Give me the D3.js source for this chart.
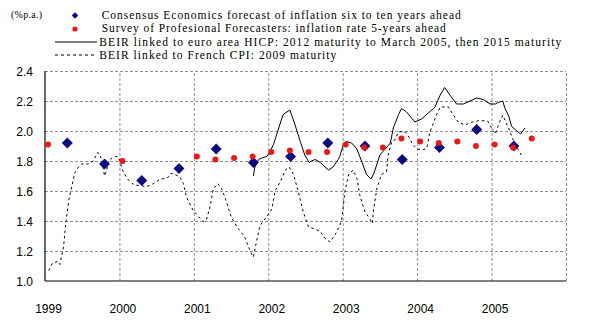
<!DOCTYPE html>
<html>
<head>
<meta charset="utf-8">
<script src="https://cdn.jsdelivr.net/npm/d3@7"></script>
<style>
  html, body { margin: 0; padding: 0; background: #fff; }
  svg { display: block; }
  .tick-label { font-family: "Liberation Sans", Arial, sans-serif; font-size: 12px; fill: #000; }
  .legend-text { font-family: "Liberation Serif", "Times New Roman", serif; font-size: 11.5px; fill: #000; }
</style>
</head>
<body>
<svg id="chart" width="591" height="325"></svg>
<script>
// Consensus Economics: long-term (6-10 years ahead) inflation forecast, twice a year
const consensusDates  = [1999.3, 1999.8, 2000.3, 2000.8, 2001.3, 2001.8, 2002.3, 2002.8, 2003.3, 2003.8, 2004.3, 2004.8, 2005.3];
const consensusValues = [1.92, 1.78, 1.67, 1.75, 1.88, 1.79, 1.83, 1.92, 1.90, 1.81, 1.89, 2.01, 1.90];

// Survey of Professional Forecasters: inflation 5 years ahead
const spfDates  = [1999.04, 2000.04, 2001.04, 2001.29, 2001.54, 2001.79, 2002.04, 2002.29, 2002.54, 2002.79,
                   2003.04, 2003.29, 2003.54, 2003.79, 2004.04, 2004.29, 2004.54, 2004.79, 2005.04, 2005.29, 2005.54];
const spfValues = [1.91, 1.80, 1.83, 1.81, 1.82, 1.83, 1.86, 1.87, 1.86, 1.86,
                   1.91, 1.89, 1.89, 1.95, 1.93, 1.92, 1.93, 1.90, 1.91, 1.89, 1.95];

// Break-even inflation rate, bonds linked to euro area HICP [date, % p.a.]
const beirHicp = [
  [2001.80,1.70],[2001.82,1.76],[2001.87,1.81],[2001.91,1.82],[2001.98,1.83],[2002.02,1.86],[2002.07,1.91],
  [2002.14,2.02],[2002.20,2.11],[2002.29,2.14],[2002.36,2.04],[2002.43,1.93],[2002.49,1.84],[2002.55,1.79],
  [2002.58,1.80],[2002.63,1.81],[2002.70,1.79],[2002.76,1.76],[2002.81,1.74],[2002.87,1.76],[2002.94,1.81],
  [2002.96,1.83],[2003.01,1.91],[2003.05,1.93],[2003.12,1.92],[2003.19,1.88],[2003.26,1.79],[2003.32,1.71],
  [2003.38,1.68],[2003.42,1.72],[2003.46,1.78],[2003.50,1.84],[2003.57,1.88],[2003.64,1.92],[2003.68,2.02],
  [2003.75,2.11],[2003.79,2.15],[2003.85,2.13],[2003.92,2.09],[2003.97,2.06],[2004.06,2.08],[2004.15,2.12],
  [2004.22,2.15],[2004.24,2.16],[2004.31,2.24],[2004.37,2.29],[2004.44,2.24],[2004.53,2.18],[2004.62,2.18],
  [2004.71,2.20],[2004.80,2.22],[2004.89,2.21],[2004.98,2.18],[2005.05,2.18],[2005.09,2.19],[2005.15,2.20],
  [2005.18,2.15],[2005.23,2.10],[2005.27,2.03],[2005.34,2.00],[2005.39,1.98],[2005.45,2.02]
];

// Break-even inflation rate, bond linked to French CPI [date, % p.a.]
const beirFrench = [
  [1999.05,1.07],[1999.10,1.12],[1999.17,1.13],[1999.20,1.11],[1999.25,1.23],[1999.28,1.39],[1999.32,1.54],
  [1999.36,1.63],[1999.40,1.72],[1999.45,1.76],[1999.49,1.78],[1999.58,1.78],[1999.65,1.80],[1999.70,1.855],
  [1999.73,1.85],[1999.76,1.81],[1999.80,1.70],[1999.83,1.74],[1999.85,1.80],[1999.90,1.82],[1999.95,1.83],
  [1999.99,1.825],[2000.04,1.74],[2000.10,1.685],[2000.17,1.65],[2000.21,1.64],[2000.37,1.63],[2000.46,1.65],
  [2000.55,1.68],[2000.64,1.685],[2000.70,1.72],[2000.81,1.695],[2000.86,1.65],[2000.90,1.56],[2000.99,1.47],
  [2001.06,1.43],[2001.13,1.395],[2001.17,1.41],[2001.22,1.50],[2001.26,1.61],[2001.32,1.65],[2001.37,1.62],
  [2001.43,1.54],[2001.50,1.43],[2001.58,1.36],[2001.66,1.31],[2001.69,1.285],[2001.75,1.21],[2001.80,1.16],
  [2001.84,1.26],[2001.89,1.37],[2001.98,1.43],[2002.05,1.48],[2002.09,1.60],[2002.16,1.66],[2002.23,1.74],
  [2002.28,1.76],[2002.34,1.71],[2002.40,1.60],[2002.47,1.46],[2002.54,1.36],[2002.61,1.35],[2002.70,1.33],
  [2002.76,1.285],[2002.83,1.26],[2002.90,1.31],[2002.96,1.37],[2002.99,1.42],[2003.03,1.60],[2003.08,1.71],
  [2003.14,1.74],[2003.19,1.685],[2003.23,1.57],[2003.30,1.46],[2003.37,1.41],[2003.40,1.385],[2003.41,1.46],
  [2003.46,1.62],[2003.52,1.71],[2003.59,1.73],[2003.61,1.84],[2003.66,1.93],[2003.70,1.94],[2003.75,1.995],
  [2003.84,1.995],[2003.89,1.96],[2003.94,1.91],[2004.00,1.88],[2004.08,1.875],[2004.13,1.885],[2004.17,1.99],
  [2004.27,2.12],[2004.31,2.16],[2004.42,2.16],[2004.47,2.12],[2004.55,2.06],[2004.64,2.04],[2004.74,2.06],
  [2004.84,2.07],[2004.95,2.065],[2005.01,2.01],[2005.05,1.98],[2005.11,2.065],[2005.15,2.105],[2005.22,2.03],
  [2005.29,1.94],[2005.36,1.875],[2005.41,1.83]
];

const yearLabels = ["1999", "2000", "2001", "2002", "2003", "2004", "2005"];
const yTicks = [1.0, 1.2, 1.4, 1.6, 1.8, 2.0, 2.2, 2.4];
const unitLabel = "(%p.a.)";
const legendLabels = [
  "Consensus Economics forecast of inflation six to ten years ahead",
  "Survey of Profesional Forecasters: inflation rate 5-years ahead",
  "BEIR linked to euro area HICP: 2012 maturity to March 2005, then 2015 maturity",
  "BEIR linked to French CPI: 2009 maturity"
];

const svg = d3.select("#chart");
const plotLeft = 45, plotRight = 566, plotTop = 71, plotBottom = 281;

const x = d3.scaleLinear().domain([1999, 2006]).range([plotLeft, plotRight]);
const y = d3.scaleLinear().domain([1.0, 2.4]).range([plotBottom, plotTop]);

const navy = "#0a0a82", red = "#f01616", grid = "#8f8f8f";

// Horizontal dashed grid
svg.append("g")
  .attr("transform", `translate(${plotLeft},0)`)
  .call(d3.axisLeft(y).tickValues(yTicks.filter(v => v > 1.0)).tickSize(-(plotRight - plotLeft)).tickFormat(""))
  .call(g => g.select(".domain").remove())
  .call(g => g.selectAll("line").attr("stroke", grid).attr("stroke-dasharray", "3,2"));

// Vertical dashed grid at each year boundary
svg.append("g")
  .attr("transform", `translate(0,${plotBottom})`)
  .call(d3.axisBottom(x).tickValues(d3.range(2000, 2007)).tickSize(-(plotBottom - plotTop)).tickFormat(""))
  .call(g => g.select(".domain").remove())
  .call(g => g.selectAll("line").attr("stroke", grid).attr("stroke-dasharray", "3,2"));

// Axis lines
svg.append("line").attr("x1", plotLeft).attr("x2", plotLeft).attr("y1", y(2.4)).attr("y2", y(1.0))
  .attr("stroke", "#000").attr("stroke-width", 1.2);
svg.append("line").attr("x1", plotLeft).attr("x2", plotRight).attr("y1", y(1.0)).attr("y2", y(1.0))
  .attr("stroke", "#000").attr("stroke-width", 1.2);

// Y tick labels
svg.append("g")
  .attr("transform", `translate(${plotLeft},0)`)
  .call(d3.axisLeft(y).tickValues(yTicks).tickSize(0).tickPadding(12).tickFormat(d3.format(".1f")))
  .call(g => g.select(".domain").remove())
  .call(g => g.selectAll("text").attr("class", "tick-label").attr("dy", "0.38em").attr("font-size", null).attr("font-family", null));

// X year labels
svg.append("g")
  .attr("transform", `translate(3,${plotBottom})`)
  .call(d3.axisBottom(x).tickValues(yearLabels.map(Number)).tickSize(0).tickPadding(23).tickFormat((d, i) => yearLabels[i]))
  .call(g => g.select(".domain").remove())
  .call(g => g.selectAll("text").attr("class", "tick-label").attr("font-size", null).attr("font-family", null));

const line = d3.line().x(d => x(d[0])).y(d => y(d[1]));

// BEIR lines
svg.append("path").datum(beirFrench).attr("d", line)
  .attr("fill", "none").attr("stroke", "#000").attr("stroke-width", 1).attr("stroke-dasharray", "2.5,3");
svg.append("path").datum(beirHicp).attr("d", line)
  .attr("fill", "none").attr("stroke", "#000").attr("stroke-width", 1);

// Consensus diamonds
const diamond = d3.symbol().type(d3.symbolSquare).size(60);
svg.append("g").selectAll("path")
  .data(consensusDates.map((d, i) => [d, consensusValues[i]]))
  .join("path")
  .attr("d", diamond)
  .attr("transform", d => `translate(${x(d[0])},${y(d[1])}) rotate(45)`)
  .attr("fill", navy);

// SPF dots
svg.append("g").selectAll("circle")
  .data(spfDates.map((d, i) => [d, spfValues[i]]))
  .join("circle")
  .attr("cx", d => x(d[0])).attr("cy", d => y(d[1])).attr("r", 3)
  .attr("fill", red);

// Unit label
svg.append("text").attr("x", 11).attr("y", 18)
  .attr("font-family", "'Liberation Serif', 'Times New Roman', serif").attr("font-size", 10)
  .attr("textLength", 31).attr("lengthAdjust", "spacing")
  .text(unitLabel);

// Legend
const lg = svg.append("g");
lg.append("path").attr("d", d3.symbol().type(d3.symbolSquare).size(22))
  .attr("transform", "translate(75,15.5) rotate(45)").attr("fill", navy);
lg.append("circle").attr("cx", 75).attr("cy", 29).attr("r", 2.6).attr("fill", red);
lg.append("line").attr("x1", 55).attr("x2", 97).attr("y1", 42).attr("y2", 42).attr("stroke", "#000");
lg.append("line").attr("x1", 55).attr("x2", 97).attr("y1", 55).attr("y2", 55)
  .attr("stroke", "#000").attr("stroke-dasharray", "3,3");

const legendX = [101.7, 101.7, 99.3, 99.3];
const legendY = [19, 32.3, 45.7, 59];
const legendW = [359, 344, 462, 237];
lg.selectAll("text.legend-text")
  .data(legendLabels)
  .join("text")
  .attr("class", "legend-text")
  .attr("x", (d, i) => legendX[i])
  .attr("y", (d, i) => legendY[i])
  .attr("textLength", (d, i) => legendW[i])
  .attr("lengthAdjust", "spacing")
  .text(d => d);
</script>
</body>
</html>
